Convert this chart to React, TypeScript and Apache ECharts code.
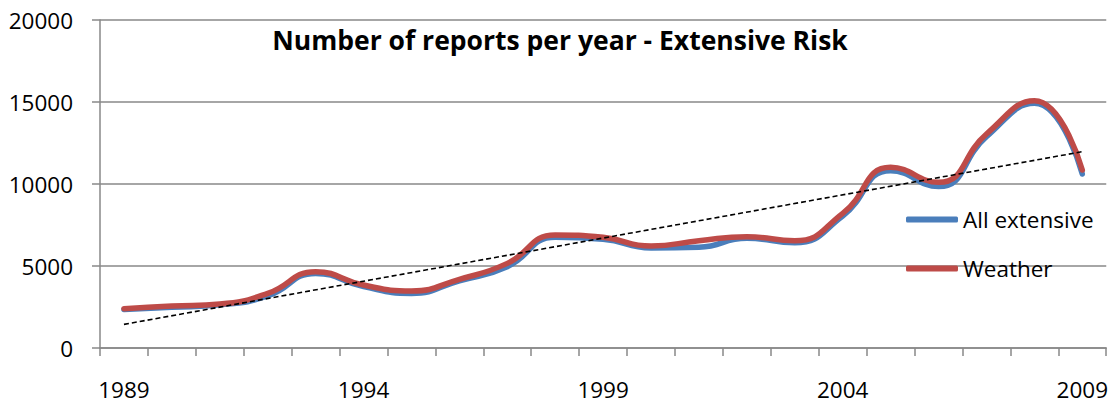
import React, { useEffect, useRef } from "react";
import * as echarts from "echarts";

// Reporting years on the category axis
const years = [
  "1989", "1990", "1991", "1992", "1993", "1994", "1995", "1996", "1997", "1998",
  "1999", "2000", "2001", "2002", "2003", "2004", "2005", "2006", "2007", "2008", "2009",
];

// Reports per year, all extensive-risk events
const allExtensive = [
  2350, 2480, 2630, 3170, 4550, 3740, 3330, 4100, 4960, 6750,
  6630, 6100, 6140, 6690, 6420, 8050, 10810, 9840, 12880, 14920, 10610,
];

// Reports per year, weather-related events
const weather = [
  2400, 2560, 2680, 3330, 4650, 3840, 3480, 4190, 5160, 6890,
  6750, 6220, 6540, 6790, 6540, 8210, 11020, 10100, 13050, 15080, 10850,
];

// Linear trend of the series, value at the first and last year
const trendEnds = [1440, 11970];

const yTicks = { min: 0, max: 20000, interval: 5000 };

const FONT = "'Open Sans', sans-serif";
const GRID_GRAY = "#888888";

export default function App() {
  const ref = useRef<HTMLDivElement>(null);

  useEffect(() => {
    if (!ref.current) return;
    const chart = echarts.init(ref.current, undefined, { renderer: "svg" });

    const last = years.length - 1;
    const trend = years.map((_, i) =>
      i === 0 ? trendEnds[0] : i === last ? trendEnds[1] : null
    );

    chart.setOption({
      animation: false,
      backgroundColor: "#ffffff",
      textStyle: { fontFamily: FONT },
      title: {
        text: "Number of reports per year - Extensive Risk",
        left: 560,
        top: 26,
        padding: 0,
        textAlign: "center",
        textStyle: {
          fontFamily: FONT,
          fontWeight: "bold",
          fontSize: 26.5,
          color: "#000000",
        },
      },
      legend: {
        orient: "vertical",
        left: 906,
        top: 208,
        padding: 0,
        itemWidth: 52,
        itemHeight: 6,
        itemGap: 26,
        icon: "roundRect",
        data: ["All extensive", "Weather"],
        textStyle: { fontFamily: FONT, fontSize: 22.5, color: "#000000" },
      },
      grid: { left: 100, right: 4, top: 20, bottom: 57, containLabel: false },
      xAxis: {
        type: "category",
        data: years,
        boundaryGap: true,
        axisLine: { lineStyle: { color: GRID_GRAY, width: 1.5 } },
        axisTick: {
          show: true,
          interval: 0,
          length: 8,
          lineStyle: { color: GRID_GRAY, width: 1.5 },
        },
        axisLabel: {
          interval: 4,
          margin: 30,
          fontFamily: FONT,
          fontSize: 22.5,
          color: "#000000",
        },
      },
      yAxis: {
        type: "value",
        min: yTicks.min,
        max: yTicks.max,
        interval: yTicks.interval,
        axisLine: { show: true, lineStyle: { color: GRID_GRAY, width: 1.5 } },
        axisTick: { show: true, length: 8, lineStyle: { color: GRID_GRAY, width: 1.5 } },
        splitLine: { show: true, lineStyle: { color: GRID_GRAY, width: 1.5 } },
        axisLabel: {
          margin: 27,
          fontFamily: FONT,
          fontSize: 22.5,
          color: "#000000",
          formatter: (v: number) => String(v),
        },
      },
      series: [
        {
          name: "All extensive",
          type: "line",
          data: allExtensive,
          smooth: 0.5,
          showSymbol: false,
          symbol: "none",
          color: "#4A7EBB",
          lineStyle: { color: "#4A7EBB", width: 5.5, cap: "round" },
          z: 2,
        },
        {
          name: "Weather",
          type: "line",
          data: weather,
          smooth: 0.5,
          showSymbol: false,
          symbol: "none",
          color: "#BE4B48",
          lineStyle: { color: "#BE4B48", width: 5.5, cap: "round" },
          z: 3,
        },
        {
          name: "Trend",
          type: "line",
          data: trend,
          connectNulls: true,
          showSymbol: false,
          symbol: "none",
          lineStyle: { color: "#000000", width: 1.6, type: [5, 3] },
          z: 4,
        },
      ],
    });

    return () => chart.dispose();
  }, []);

  return (
    <div
      ref={ref}
      style={{ position: "absolute", left: 0, top: 0, width: 1111, height: 405 }}
    />
  );
}
